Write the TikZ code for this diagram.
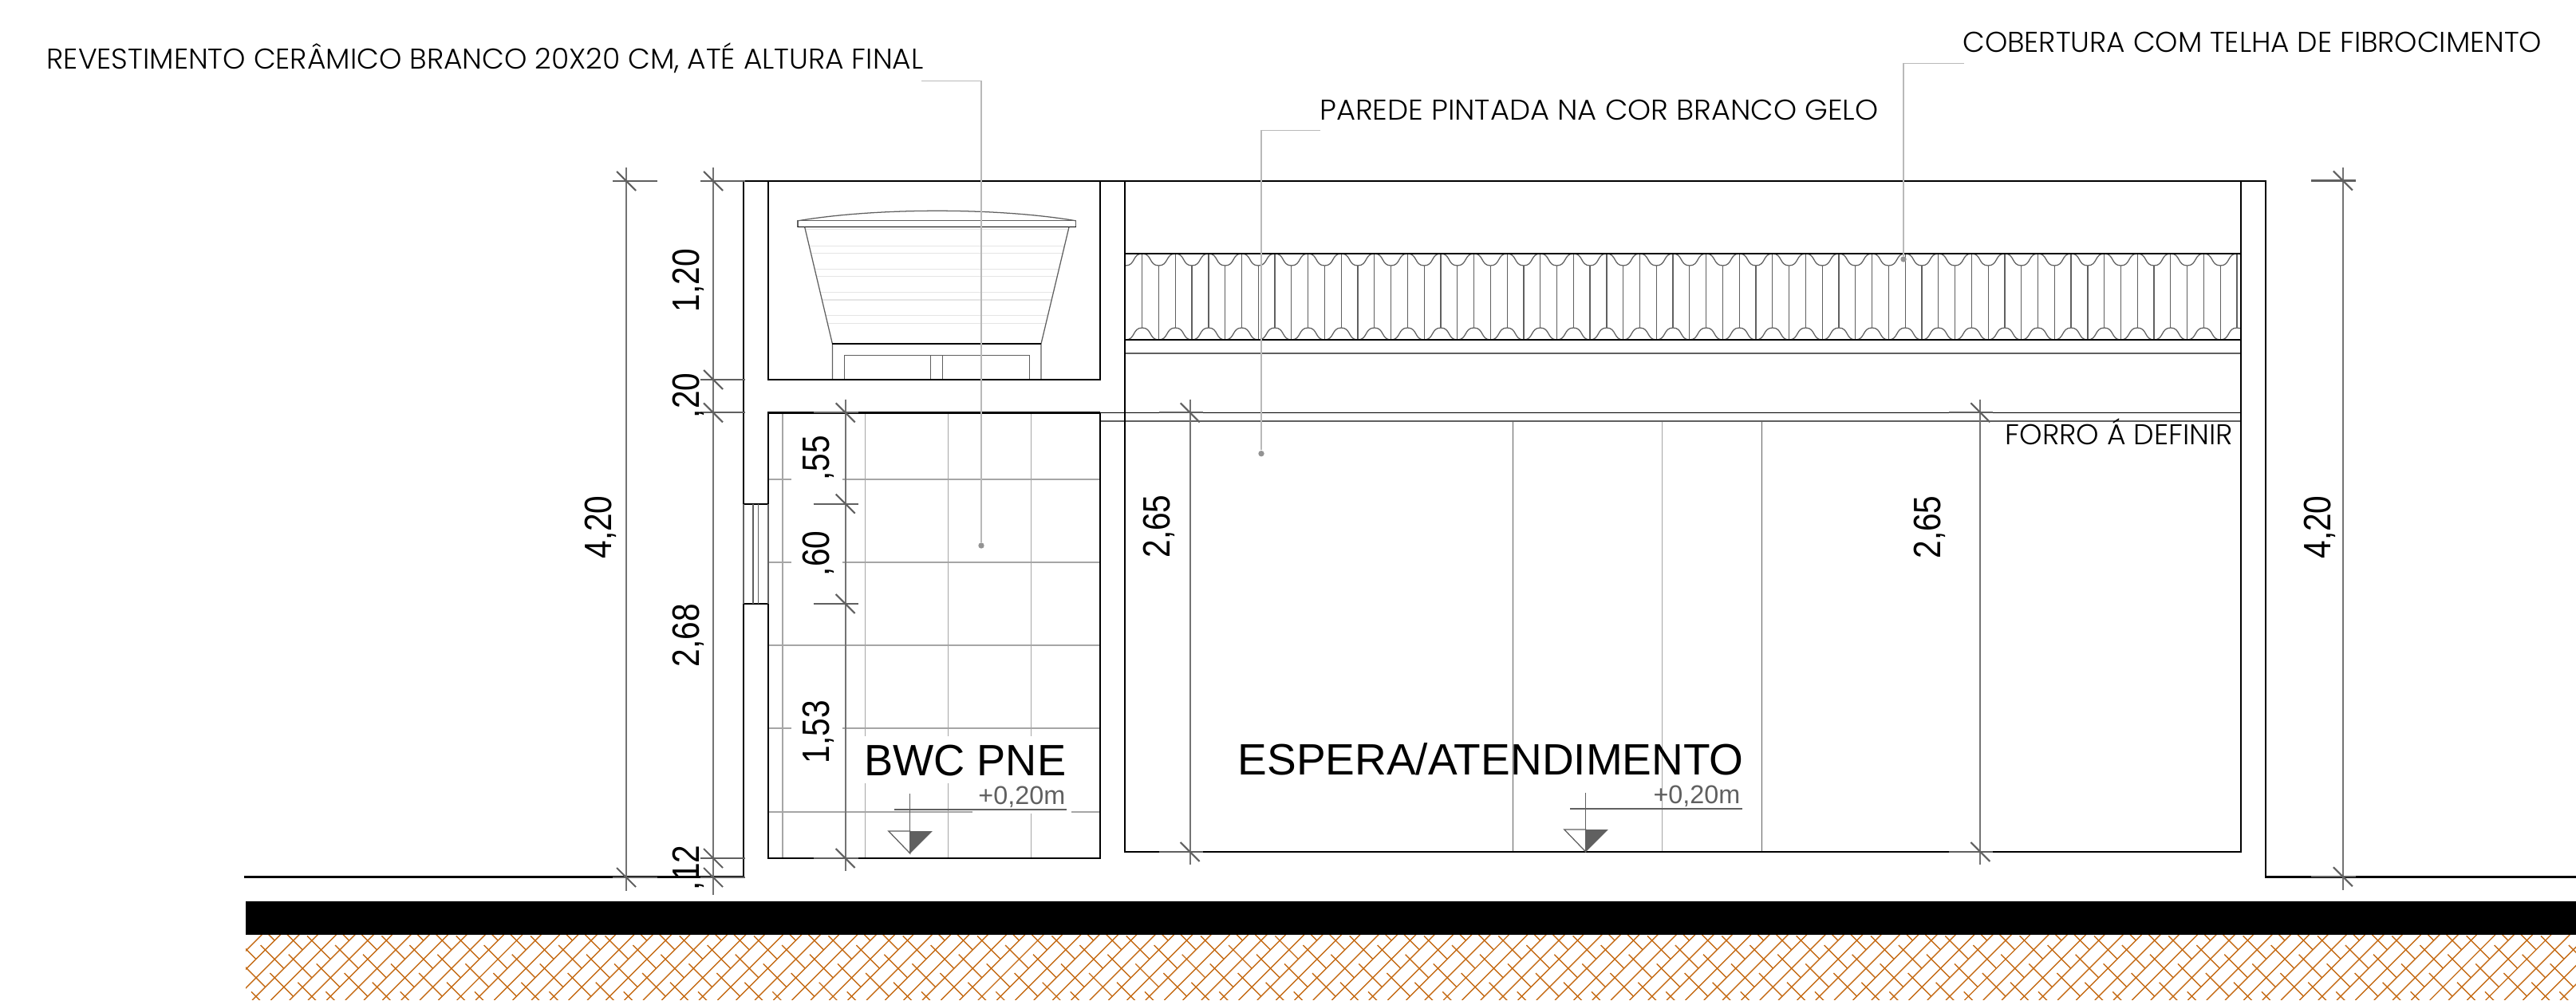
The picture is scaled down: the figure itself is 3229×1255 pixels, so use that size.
\documentclass[tikz,border=0pt]{standalone}
\usepackage{fontspec}
\setmainfont{Liberation Sans}
\newfontfamily\notefont{Poppins Light}
\usetikzlibrary{positioning}
\definecolor{dimgray}{HTML}{606060}
\definecolor{soilcolor}{HTML}{C46A14}
\tikzset{
  wall/.style={line width=0.8pt,black},
  edge/.style={line width=0.4pt,black},
  thinline/.style={line width=0.36pt,dimgray},
  dimline/.style={line width=0.48pt,gray!90!black},
  dimtick/.style={line width=0.6pt,dimgray},
  tileline/.style={line width=0.38pt,gray!70},
  tankline/.style={line width=0.45pt,gray!20},
  leader/.style={line width=0.42pt,gray!55},
  leaddot/.style={circle,fill=gray!85,inner sep=0pt,minimum size=2.1pt},
  soil/.style={line width=0.4pt,soilcolor},
  dimtext/.style={font=\fontsize{13.6pt}{13.6pt}\selectfont,rotate=90,anchor=base,inner sep=0pt},
  roomtext/.style={font=\fontsize{15.65pt}{15.65pt}\selectfont,anchor=base west,inner sep=0pt},
  leveltext/.style={font=\fontsize{9.2pt}{9.2pt}\selectfont,text=dimgray,anchor=base east,inner sep=0pt},
  notetext/.style={font=\notefont\fontsize{10.2pt}{10.2pt}\selectfont,anchor=base west,inner sep=0pt},
}
% tick on a dimension line: x, y, reach left, reach right
\newcommand{\tick}[4]{
  \draw[dimtick] (#1-#3,#2) -- (#1+#4,#2);
  \draw[dimtick] (#1-12,#2-12) -- (#1+12,#2+12);
}
% level mark: x of the axis, left and right end of the bar
\newcommand{\levelmark}[5]{
  \draw[thinline] (#1,#2) -- (#1,#3);
  \draw[dimtick] (#4,#2+20) -- (#5,#2+20);
  \draw[thinline] (#1-27,#3-28) -- (#1,#3) -- (#1,#3-28) -- cycle;
  \fill[dimgray] (#1,#3-28) -- (#1+28,#3-28) -- (#1,#3) -- cycle;
}
\newcommand{\dimtxt}[1]{\scalebox{0.85}[1]{#1}}

\begin{document}
\begin{tikzpicture}[x=0.01cm,y=-0.01cm]
\useasboundingbox (0,0) rectangle (3229,1255);

%Soil
  \begin{scope}
    \clip (308,1171) rectangle (3229,1253);
    \foreach \k in {63,...,193}
      \draw[soil] ({\k*23.33+7-1171},1171) -- ({\k*23.33+7-1254},1254);
    \foreach \i in {-4,...,32}
      \foreach \j in {-3,...,6}
        \draw[soil] ({326.7+93.33*\i+35*\j},{1185+11.67*\j}) -- ++(29,29);
  \end{scope}
  \fill[black] (308,1130) rectangle (3229,1172);

%Tiles in the bathroom
  \foreach \y in {601,705,913}{
    \draw[tileline] (963,\y) -- (992,\y);
    \draw[tileline] (1056,\y) -- (1379,\y);
  }
  \draw[tileline] (963,809) -- (1379,809);
  \draw[tileline] (963,1018) -- (1219,1018);
  \draw[tileline] (1343,1018) -- (1379,1018);
  \draw[tileline] (981,517) -- (981,1076);
  \foreach \x in {1084.7,1188.3}{
    \draw[tileline] (\x,517) -- (\x,923);
    \draw[tileline] (\x,982) -- (\x,1076);
  }
  \draw[tileline] (1292.3,517) -- (1292.3,923);
  \draw[tileline] (1292.3,1020) -- (1292.3,1076);

%Panels in the waiting room
  \draw[thinline] (1896.6,528) -- (1896.6,1068);
  \draw[tileline] (2083.7,528) -- (2083.7,1068);
  \draw[thinline] (2208.8,528) -- (2208.8,1068);

%Water tank
  \foreach \y in {287.3,308.3,317.7,337.3,346.7,366.7,376,395.7,405.3}
    \draw[tankline] ({1008.7+(\y-284.7)*0.2372},\y) -- ({1340-(\y-284.7)*0.2386},\y);
  \draw[thinline] (1001,276.7) .. controls (1100,260.2) and (1250,260.2) .. (1348,276.7);
  \draw[thinline] (1000,276.7) rectangle (1348.5,284.7);
  \draw[edge] (1000,284.7) -- (1348.5,284.7);
  \draw[thinline] (1008.7,284.7) -- (1043.4,431) -- (1043.4,476);
  \draw[thinline] (1340,284.7) -- (1305,431) -- (1305,476);
  \draw[edge] (1043.4,431) -- (1305,431);
  \draw[thinline] (1058.7,476) -- (1058.7,445.7) -- (1290.3,445.7) -- (1290.3,476);
  \draw[thinline] (1166.8,445.7) -- (1166.8,476);
  \draw[thinline] (1181.6,445.7) -- (1181.6,476);

%Roof tiles
  \begin{scope}
    \clip (1410,300) rectangle (2809,440);
    \foreach \k in {0,...,33}{
      \pgfmathsetmacro{\xa}{1410.9+41.585*\k}
      \foreach \yb in {333,426}
        \draw[thinline] (\xa,\yb) .. controls (\xa+12.5,\yb) and (\xa+8.3,\yb-15) .. (\xa+20.8,\yb-15)
          .. controls (\xa+33.3,\yb-15) and (\xa+29.1,\yb) .. (\xa+41.585,\yb);
      \draw[thinline] (\xa+20.8,318) -- (\xa+20.8,411);
      \draw[thinline] (\xa+41.585,333) -- (\xa+41.585,426);
    }
  \end{scope}
  \draw[edge] (1410,318) -- (2809,318);
  \draw[edge] (1410,426) -- (2809,426);
  \draw[dimtick] (1410,443) -- (2809,443);

%Ceiling and top lines
  \draw[edge] (963,227) -- (2809,227);
  \draw[edge] (1379,517.3) -- (2809,517.3);
  \draw[dimtick] (1379,528) -- (2809,528);

%Walls
  \draw[wall] (932,227) -- (963,227) -- (963,476) -- (1379,476) -- (1379,227) -- (1410,227) -- (1410,1068) -- (2809,1068) -- (2809,227) -- (2840,227) -- (2840,1099.3) -- (3229,1099.3);
  \draw[wall] (932,227) -- (932,632) -- (963,632) -- (963,517.3) -- (1379,517.3);
  \draw[wall] (306,1099.3) -- (932,1099.3) -- (932,757) -- (963,757) -- (963,1076) -- (1379,1076) -- (1379,517.3);

%Window
  \foreach \x in {932,944,950.5,963}
    \draw[thinline] (\x,632) -- (\x,757);

%Dimension lines
  \draw[dimline] (785,210) -- (785,1117);
  \tick{785}{227}{17}{39}
  \tick{785}{1100}{17}{39}
  \draw[dimline] (894,210) -- (894,1122);
  \foreach \y in {227,476,517.3,1076,1100}
    \tick{894}{\y}{16}{40}
  \draw[dimline] (1059.7,501) -- (1059.7,1092);
  \foreach \y in {517.3,631.7,757,1076}
    \tick{1059.7}{\y}{40}{16}
  \draw[dimline] (1491.7,501) -- (1491.7,1084);
  \tick{1491.7}{517.3}{39}{16}
  \tick{1491.7}{1068}{39}{16}
  \draw[dimline] (2482.3,501) -- (2482.3,1084);
  \tick{2482.3}{517.3}{39}{16}
  \tick{2482.3}{1068}{39}{16}
  \draw[dimline] (2936.8,210) -- (2936.8,1116);
  \tick{2936.8}{226.5}{40}{16}
  \tick{2936.8}{1099.3}{40}{16}

%Level marks
  \levelmark{1140.8}{995}{1070}{1121}{1336.7}
  \levelmark{1987.8}{994}{1068}{1968}{2183.6}

%Dimension texts
  \node[dimtext] (dimtotalleft) at (766,661) {\dimtxt{4,20}};
  \node[dimtext] (dimtank) at (876,351.5) {\dimtxt{1,20}};
  \node[dimtext] (dimslab) at (876,496) {\dimtxt{,20}};
  \node[dimtext] (dimroom) at (876,796.5) {\dimtxt{2,68}};
  \node[dimtext] (dimfloor) at (876,1088) {\dimtxt{,12}};
  \node[dimtext] (dimupper) at (1039,574.5) {\dimtxt{,55}};
  \node[dimtext] (dimwindow) at (1039,694) {\dimtxt{,60}};
  \node[dimtext] (dimlower) at (1039,917.7) {\dimtxt{1,53}};
  \node[dimtext] (dimceilleft) at (1466,660) {\dimtxt{2,65}};
  \node[dimtext] (dimceilright) at (2432,661) {\dimtxt{2,65}};
  \node[dimtext] (dimtotalright) at (2921,661) {\dimtxt{4,20}};

%Room names
  \node[roomtext] (bwc) at (1082.6,972.5) {\scalebox{0.985}[1]{BWC PNE}};
  \node[roomtext] (espera) at (1551,971.7) {ESPERA/ATENDIMENTO};
  \node[leveltext] (levelbwc) at (1336,1008) {+0,20m};
  \node[leveltext] (levelespera) at (2182,1007) {+0,20m};

%Notes
  \node[notetext] (notetile) at (58,86.7) {\scalebox{1.006}[1]{REVESTIMENTO CERÂMICO BRANCO 20X20 CM, ATÉ ALTURA FINAL}};
  \node[notetext] (notewall) at (1653.5,150.7) {\scalebox{1.03}[1]{PAREDE PINTADA NA COR BRANCO GELO}};
  \node[notetext] (noteroof) at (2459.6,66) {\scalebox{1.003}[1]{COBERTURA COM TELHA DE FIBROCIMENTO}};
  \node[notetext] (noteceil) at (2513,558) {\scalebox{1.01}[1]{FORRO Á DEFINIR}};

%Leaders
  \node[leaddot] (dottile) at (1230,684) {};
  \node[leaddot] (dotwall) at (1581,568.7) {};
  \node[leaddot] (dotroof) at (2386,325) {};
  \coordinate (starttile) at (1155,101.3);
  \coordinate (startwall) at (1655,163.3);
  \coordinate (startroof) at (2461.6,79.3);
  \draw[leader] (starttile) -| (dottile);
  \draw[leader] (startwall) -| (dotwall);
  \draw[leader] (startroof) -| (dotroof);
\end{tikzpicture}
\end{document}
